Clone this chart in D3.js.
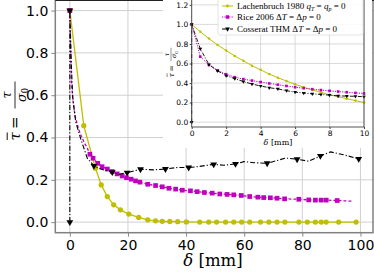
<!DOCTYPE html>
<html>
<head>
<meta charset="utf-8">
<script src="https://cdn.jsdelivr.net/npm/d3@7"></script>
<style>
  body { margin: 0; background: #fff; }
  svg { display: block; }
  text { fill: #000; }
</style>
</head>
<body>
<div id="chart"></div>
<script>
// Main plot data: [delta (mm), tau / sigma0]
const lachMain = [[0,1],[4.8,0.456],[8.8,0.255],[10.8,0.176],[12.9,0.121],[15.1,0.082],[17.4,0.058],
  [20.3,0.038],[23.7,0.022],[26.8,0.011],[29.5,0.006],[31.8,0.004],[34.4,0.003],[37.1,0.002],[40.1,0.001],
  [44.7,0],[47.8,0],[50.5,0],[53.6,0],[56.4,0],[59.1,0],[61.9,0],[65.6,0],[68.5,0],[71.3,0],[74,0],
  [78.8,0],[81.7,0],[84.5,0],[86.5,0],[88.2,0],[92.5,0],[98.5,0]];
const riceMain = [[0,1],[0.5,0.67],[1,0.585],[1.5,0.53],[2,0.49],[3,0.44],[4,0.405],[5,0.375],[6,0.35],
  [6.9,0.321],[8.0,0.302],[9.6,0.278],[11.1,0.262],[12.9,0.251],[14.6,0.239],[16.3,0.228],[18.0,0.218],
  [19.5,0.210],[21.1,0.203],[22.6,0.195],[24.1,0.189],[26.8,0.179],[29.5,0.173],[31.8,0.167],[34.1,0.160],
  [36.4,0.156],[38.7,0.151],[41.5,0.148],[43.8,0.144],[46.3,0.140],[49.0,0.137],[51.6,0.133],[54.1,0.131],
  [56.4,0.129],[59.0,0.126],[61.9,0.121],[64.7,0.118],[66.7,0.116],[69.0,0.115],[71.3,0.113],[73.9,0.110],
  [78.8,0.108],[82.2,0.105],[84.5,0.104],[86.5,0.104],[88.2,0.104],[92.0,0.102],[97.1,0.099]];
const riceMainMarks = [0,9,10,11,12,13,14,15,16,17,18,19,20,21,22,23,24,25,26,27,28,29,30,31,32,33,34,35,
  36,37,38,39,40,41,42,43,44,45,46];
const cossMain = [[0,0],[0,1],[0.5,0.75],[1,0.59],[2,0.475],[3.7,0.396],[6.0,0.302],[8.3,0.266],[10.6,0.251],
  [14.6,0.236],[16.9,0.226],[19.7,0.234],[24.3,0.250],[28.9,0.247],[32.9,0.251],[36.9,0.258],[40.9,0.258],
  [43.8,0.262],[49.5,0.273],[53.0,0.269],[57.0,0.275],[59.9,0.286],[63.3,0.281],[67.9,0.278],[71.3,0.291],
  [74.2,0.303],[78.2,0.297],[82.2,0.288],[86.2,0.313],[89.7,0.332],[94.3,0.318],[99.4,0.299]];
const cossMainMarks = [0,1,7,9,11,12,14,16,18,20,23,26,28,31];

// Inset data (first 10 mm)
const lachInset = [[0,1],[0.5,0.925],[1,0.855],[1.5,0.79],[2,0.733],[2.5,0.677],[3,0.627],[3.5,0.578],
  [4,0.535],[4.5,0.492],[5,0.455],[5.5,0.42],[6,0.387],[6.5,0.357],[7,0.33],[7.5,0.305],[8,0.28],
  [8.5,0.26],[9,0.24],[9.5,0.22],[10,0.2]];
const riceInset = [[0,1],[0.5,0.67],[1,0.585],[1.5,0.53],[2,0.49],[2.5,0.46],[3,0.44],[3.5,0.425],
  [4,0.41],[4.5,0.396],[5,0.383],[5.5,0.37],[6,0.357],[6.5,0.347],[7,0.337],[7.5,0.328],[8,0.32],
  [8.5,0.313],[9,0.306],[9.5,0.299],[10,0.293]];
const cossInset = [[0,0],[0,1],[0.5,0.75],[1,0.59],[1.5,0.525],[2,0.475],[2.5,0.445],[3,0.415],[3.5,0.39],
  [4,0.37],[4.5,0.352],[5,0.34],[5.5,0.322],[6,0.307],[6.5,0.298],[7,0.29],[7.5,0.283],[8,0.276],
  [8.5,0.269],[9,0.266],[9.5,0.264],[10,0.26]];

const mainXTicks = [0, 20, 40, 60, 80, 100];
const mainYTicks = [0, 0.2, 0.4, 0.6, 0.8, 1.0];
const insetXTicks = [0, 2, 4, 6, 8, 10];
const insetYTicks = [0, 0.2, 0.4, 0.6, 0.8, 1.0, 1.2];

const width = 374, height = 274;
const yellow = "#bfbf00", magenta = "#bf00bf", black = "#000";
const gridColor = "#d0d0d0";

const svg = d3.select("#chart").append("svg")
    .attr("width", width)
    .attr("height", height);

// ---- main axes ----
const x = d3.scaleLinear().domain([-5, 105]).range([55.3, 375]);
const y = d3.scaleLinear().domain([-0.05, 1.05]).range([232.7, 0]);

const main = svg.append("g");

// grid
main.append("g").selectAll("line").data(mainXTicks).join("line")
    .attr("x1", d => x(d)).attr("x2", d => x(d))
    .attr("y1", y.range()[0]).attr("y2", y.range()[1])
    .attr("stroke", gridColor).attr("stroke-width", 1);
main.append("g").selectAll("line").data(mainYTicks).join("line")
    .attr("x1", x.range()[0]).attr("x2", x.range()[1])
    .attr("y1", d => y(d)).attr("y2", d => y(d))
    .attr("stroke", gridColor).attr("stroke-width", 1);

// axes
const xAxis = main.append("g")
    .attr("transform", `translate(0,${y.range()[0]})`)
    .call(d3.axisBottom(x).tickValues(mainXTicks).tickSize(4).tickPadding(3).tickFormat(d3.format("d")));
const yAxis = main.append("g")
    .attr("transform", `translate(${x.range()[0]},0)`)
    .call(d3.axisLeft(y).tickValues(mainYTicks).tickSize(4).tickPadding(3).tickFormat(d3.format(".1f")));
[xAxis, yAxis].forEach(a => {
  a.select(".domain").remove();
  a.selectAll(".tick line").attr("stroke", "#888");
  a.selectAll(".tick text").attr("font-family", "DejaVu Sans").attr("font-size", 14).attr("fill", "#000");
});

function drawSeries(g, data, sx, sy, opts) {
  const line = d3.line().x(d => sx(d[0])).y(d => sy(d[1]));
  g.append("path")
      .datum(data)
      .attr("d", line)
      .attr("fill", "none")
      .attr("stroke", opts.color)
      .attr("stroke-width", opts.width)
      .attr("stroke-dasharray", opts.dash || null);
  const marks = opts.marks ? opts.marks.map(i => data[i]) : data;
  const sym = d3.symbol().type(opts.symbol).size(opts.size);
  g.append("g").selectAll("path").data(marks).join("path")
      .attr("d", sym)
      .attr("transform", d => `translate(${sx(d[0])},${sy(d[1])})` + (opts.flip ? " rotate(180)" : ""))
      .attr("fill", opts.color);
}

drawSeries(main, lachMain, x, y, { color: yellow, width: 1.3, symbol: d3.symbolCircle, size: 22 });
drawSeries(main, riceMain, x, y, { color: magenta, width: 1.3, dash: "3,2", symbol: d3.symbolSquare, size: 22, marks: riceMainMarks });
drawSeries(main, cossMain, x, y, { color: black, width: 1.1, dash: "5,2,1.2,2", symbol: d3.symbolTriangle, size: 20, flip: true, marks: cossMainMarks });

// spines
main.append("rect")
    .attr("x", x.range()[0]).attr("y", y.range()[1])
    .attr("width", x.range()[1] - x.range()[0] - 2)
    .attr("height", y.range()[0] - y.range()[1])
    .attr("fill", "none").attr("stroke", "#808080").attr("stroke-width", 1.5);
main.append("line")
    .attr("x1", x.range()[0]).attr("x2", x.range()[1]).attr("y1", 0.5).attr("y2", 0.5)
    .attr("stroke", "#222").attr("stroke-width", 1.2);

// main labels
svg.append("text")
    .attr("x", 213).attr("y", 266)
    .attr("text-anchor", "middle")
    .attr("font-family", "DejaVu Serif").attr("font-size", 16.5)
    .html('<tspan font-style="italic">δ</tspan> [mm]');

function tauLabel(g, fs) {
  // τ̄ = τ / σ0, laid out along the rotated x axis
  const f = "DejaVu Serif";
  g.append("text").attr("x", -fs * 1.75).attr("y", 0).attr("font-family", f).attr("font-style", "italic")
      .attr("font-size", fs).attr("text-anchor", "middle").attr("dominant-baseline", "central").text("τ");
  g.append("line").attr("x1", -fs * 2.0).attr("x2", -fs * 1.5).attr("y1", -fs * 0.52).attr("y2", -fs * 0.52)
      .attr("stroke", "#000").attr("stroke-width", fs / 16);
  g.append("text").attr("x", -fs * 0.85).attr("y", 0).attr("font-family", f)
      .attr("font-size", fs).attr("text-anchor", "middle").attr("dominant-baseline", "central").text("=");
  g.append("text").attr("x", fs * 1.0).attr("y", -fs * 0.25).attr("font-family", f).attr("font-style", "italic")
      .attr("font-size", fs * 0.85).attr("text-anchor", "middle").text("τ");
  g.append("line").attr("x1", fs * 0.1).attr("x2", fs * 1.9).attr("y1", 0).attr("y2", 0)
      .attr("stroke", "#000").attr("stroke-width", fs / 18);
  g.append("text").attr("x", fs * 1.0).attr("y", fs * 0.72).attr("font-family", f).attr("font-style", "italic")
      .attr("font-size", fs * 0.85).attr("text-anchor", "middle")
      .html('σ<tspan font-style="normal" font-size="' + (fs * 0.55) + '" dy="' + (fs * 0.15) + '">0</tspan>');
}
tauLabel(svg.append("g").attr("transform", "translate(15,110) rotate(-90)"), 15);

// ---- inset ----
// white backing that hides the main grid under the inset
svg.append("rect").attr("x", 163).attr("y", 0).attr("width", 209).attr("height", 148).attr("fill", "#fff");

const ix = d3.scaleLinear().domain([0, 10]).range([191.7, 364]);
const iy = d3.scaleLinear().domain([-0.05, 1.25]).range([127, 0]);
const inset = svg.append("g");

inset.append("g").selectAll("line").data(insetXTicks).join("line")
    .attr("x1", d => ix(d)).attr("x2", d => ix(d))
    .attr("y1", iy.range()[0]).attr("y2", iy.range()[1])
    .attr("stroke", gridColor).attr("stroke-width", 0.8);
inset.append("g").selectAll("line").data(insetYTicks).join("line")
    .attr("x1", ix.range()[0]).attr("x2", ix.range()[1])
    .attr("y1", d => iy(d)).attr("y2", d => iy(d))
    .attr("stroke", gridColor).attr("stroke-width", 0.8);

const ixAxis = inset.append("g")
    .attr("transform", `translate(0,${iy.range()[0]})`)
    .call(d3.axisBottom(ix).tickValues(insetXTicks).tickSize(2).tickPadding(1.5).tickFormat(d3.format("d")));
const iyAxis = inset.append("g")
    .attr("transform", `translate(${ix.range()[0]},0)`)
    .call(d3.axisLeft(iy).tickValues(insetYTicks).tickSize(2).tickPadding(1.5).tickFormat(d3.format(".1f")));
[ixAxis, iyAxis].forEach(a => {
  a.select(".domain").remove();
  a.selectAll(".tick line").attr("stroke", "#444");
  a.selectAll(".tick text").attr("font-family", "DejaVu Sans").attr("font-size", 7.5).attr("fill", "#000");
});

drawSeries(inset, lachInset, ix, iy, { color: yellow, width: 1, symbol: d3.symbolCircle, size: 5 });
drawSeries(inset, riceInset, ix, iy, { color: magenta, width: 1, dash: "1.2,1.2", symbol: d3.symbolSquare, size: 7 });
drawSeries(inset, cossInset, ix, iy, { color: black, width: 0.9, dash: "4,1.5,1,1.5", symbol: d3.symbolTriangle, size: 6, flip: true });

inset.append("rect")
    .attr("x", ix.range()[0]).attr("y", -1)
    .attr("width", ix.range()[1] - ix.range()[0])
    .attr("height", iy.range()[0] + 1)
    .attr("fill", "none").attr("stroke", "#444").attr("stroke-width", 0.9);

svg.append("text")
    .attr("x", 278).attr("y", 145)
    .attr("text-anchor", "middle")
    .attr("font-family", "DejaVu Serif").attr("font-size", 8)
    .html('<tspan font-style="italic">δ</tspan> [mm]');
tauLabel(svg.append("g").attr("transform", "translate(171,62) rotate(-90)"), 7.5);

// legend
const legendItems = [
  { color: yellow, symbol: d3.symbolCircle, size: 7, dash: null,
    html: 'Lachenbruch 1980 <tspan font-style="italic">q</tspan><tspan font-size="6" dy="1.5" font-style="italic">T</tspan><tspan dy="-1.5"> = </tspan><tspan font-style="italic">q</tspan><tspan font-size="6" dy="1.5" font-style="italic">p</tspan><tspan dy="-1.5"> = 0</tspan>' },
  { color: magenta, symbol: d3.symbolSquare, size: 12, dash: "1.2,1.2",
    html: 'Rice 2006 Δ<tspan font-style="italic">T</tspan> = Δ<tspan font-style="italic">p</tspan> = 0' },
  { color: black, symbol: d3.symbolTriangle, size: 10, dash: "4,1.5,1,1.5", flip: true,
    html: 'Cosserat THM Δ<tspan font-style="italic">T</tspan> = Δ<tspan font-style="italic">p</tspan> = 0' }
];
const legendRows = [6, 17, 29];
const legend = svg.append("g");
legend.append("rect")
    .attr("x", 218).attr("y", -3).attr("width", 145).attr("height", 38).attr("rx", 2)
    .attr("fill", "#fff").attr("fill-opacity", 0.85).attr("stroke", "#ddd").attr("stroke-width", 0.8);
legendItems.forEach((d, i) => {
  const ry = legendRows[i];
  legend.append("line").attr("x1", 222).attr("x2", 233).attr("y1", ry).attr("y2", ry)
      .attr("stroke", d.color).attr("stroke-width", 1).attr("stroke-dasharray", d.dash);
  legend.append("path").attr("d", d3.symbol().type(d.symbol).size(d.size))
      .attr("transform", `translate(227.5,${ry})` + (d.flip ? " rotate(180)" : ""))
      .attr("fill", d.color);
  legend.append("text").attr("x", 237).attr("y", ry + 3)
      .attr("font-family", "Liberation Serif").attr("font-size", 9)
      .html(d.html);
});
</script>
</body>
</html>
